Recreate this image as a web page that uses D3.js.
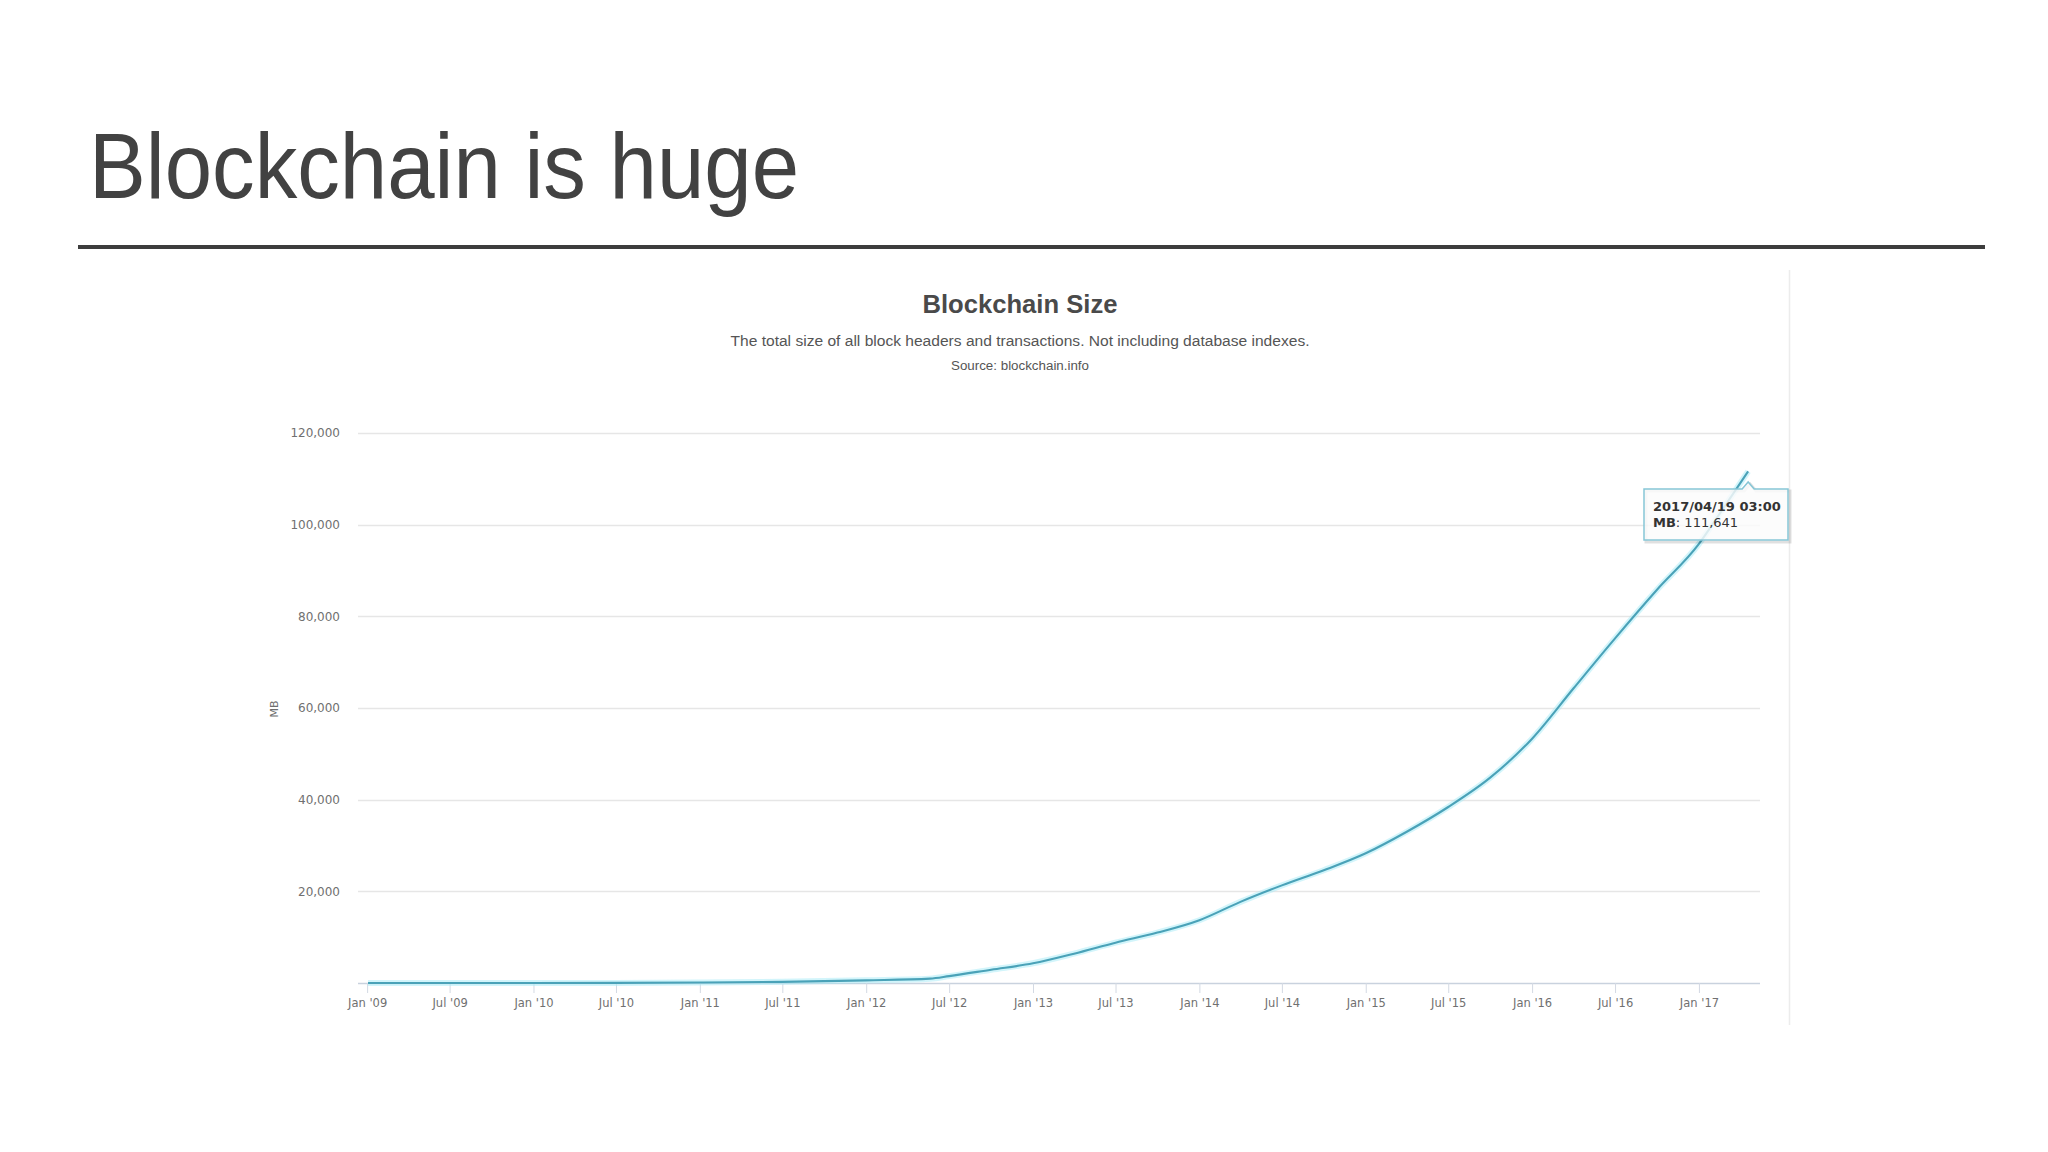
<!DOCTYPE html>
<html>
<head>
<meta charset="utf-8">
<script src="https://cdn.jsdelivr.net/npm/d3@7"></script>
<style>
  html, body { margin: 0; padding: 0; background: #ffffff; }
  svg { display: block; }
</style>
</head>
<body>
<svg id="chart" width="2048" height="1152"></svg>
<script>
// ---- Data ----
const dates = [
  "2009-01-03","2009-07-01","2010-01-01","2010-07-01","2011-01-01","2011-07-01",
  "2012-01-01","2012-05-20","2012-07-01","2012-10-01","2013-01-01","2013-04-01",
  "2013-07-01","2013-10-01","2014-01-01","2014-04-01","2014-07-01","2014-10-01",
  "2015-01-01","2015-04-01","2015-07-01","2015-10-01","2016-01-01","2016-04-01",
  "2016-07-01","2016-10-01","2017-01-01","2017-02-15","2017-04-19"
];
const sizeMB = [
  0, 1, 6, 25, 100, 250,
  580, 950, 1500, 2900, 4300, 6400,
  8800, 11000, 13700, 17700, 21300, 24600,
  28300, 33000, 38400, 44800, 53300, 64300,
  75200, 85800, 95800, 102300, 111641
];
const yTicks = [20000, 40000, 60000, 80000, 100000, 120000];
const xTickDates = [
  "2009-01-01","2009-07-01","2010-01-01","2010-07-01","2011-01-01","2011-07-01",
  "2012-01-01","2012-07-01","2013-01-01","2013-07-01","2014-01-01","2014-07-01",
  "2015-01-01","2015-07-01","2016-01-01","2016-07-01","2017-01-01"
];
const xTickLabels = [
  "Jan '09","Jul '09","Jan '10","Jul '10","Jan '11","Jul '11",
  "Jan '12","Jul '12","Jan '13","Jul '13","Jan '14","Jul '14",
  "Jan '15","Jul '15","Jan '16","Jul '16","Jan '17"
];
const slideTitle = "Blockchain is huge";
const chartTitle = "Blockchain Size";
const chartSubtitle = "The total size of all block headers and transactions. Not including database indexes.";
const chartSource = "Source: blockchain.info";
const yAxisTitle = "MB";
const tooltipDate = "2017/04/19 03:00";
const tooltipLabel = "MB";
const tooltipValue = "111,641";

// ---- Drawing ----
const parse = d3.utcParse("%Y-%m-%d");
const series = dates.map((d, i) => ({ date: parse(d), value: sizeMB[i] }));

const svg = d3.select("#chart");
const sansFont = "'Liberation Sans', Arial, Helvetica, sans-serif";
const axisFont = "'DejaVu Sans', Verdana, sans-serif";

// slide title + rule
svg.append("text")
  .attr("x", 89).attr("y", 198)
  .attr("font-family", sansFont).attr("font-size", 92)
  .attr("fill", "#424242")
  .attr("textLength", 710).attr("lengthAdjust", "spacingAndGlyphs")
  .text(slideTitle);

svg.append("rect")
  .attr("x", 78).attr("y", 245).attr("width", 1907).attr("height", 4)
  .attr("fill", "#3d3d3d");

// chart frame right border
svg.append("line")
  .attr("x1", 1789.5).attr("x2", 1789.5).attr("y1", 270).attr("y2", 1025)
  .attr("stroke", "#ececec").attr("stroke-width", 1.5);

// chart titles
const cx = 1020;
svg.append("text")
  .attr("x", cx).attr("y", 313).attr("text-anchor", "middle")
  .attr("font-family", sansFont).attr("font-size", 25).attr("font-weight", "bold")
  .attr("fill", "#4a4a4a")
  .attr("textLength", 195).attr("lengthAdjust", "spacingAndGlyphs")
  .text(chartTitle);
svg.append("text")
  .attr("x", cx).attr("y", 346).attr("text-anchor", "middle")
  .attr("font-family", sansFont).attr("font-size", 14)
  .attr("fill", "#555555")
  .attr("textLength", 579).attr("lengthAdjust", "spacingAndGlyphs")
  .text(chartSubtitle);
svg.append("text")
  .attr("x", cx).attr("y", 370).attr("text-anchor", "middle")
  .attr("font-family", sansFont).attr("font-size", 12)
  .attr("fill", "#555555")
  .attr("textLength", 138).attr("lengthAdjust", "spacingAndGlyphs")
  .text(chartSource);

// scales
const x = d3.scaleUtc()
  .domain([parse("2008-12-12"), parse("2017-05-15")])
  .range([358, 1760]);
const y = d3.scaleLinear().domain([0, 120000]).range([983, 433]);

// gridlines
const grid = svg.append("g");
grid.selectAll("line").data(yTicks).join("line")
  .attr("x1", 358).attr("x2", 1760)
  .attr("y1", d => Math.round(y(d)) + 0.5).attr("y2", d => Math.round(y(d)) + 0.5)
  .attr("stroke", "#e6e6e6").attr("stroke-width", 1.5);

// y axis labels (via d3 axis, line hidden)
const yAxis = d3.axisLeft(y).tickValues(yTicks).tickSize(0).tickPadding(0)
  .tickFormat(d3.format(","));
const gy = svg.append("g").attr("transform", "translate(340,0)").call(yAxis);
gy.select(".domain").remove();
gy.selectAll("text")
  .attr("font-family", axisFont).attr("font-size", 12).attr("fill", "#707070");

// y axis title
svg.append("text")
  .attr("transform", "translate(278,709) rotate(-90)")
  .attr("text-anchor", "middle")
  .attr("font-family", axisFont).attr("font-size", 11).attr("fill", "#6e6e6e")
  .text(yAxisTitle);

// x axis
const xTicks = xTickDates.map(parse);
const xAxis = d3.axisBottom(x).tickValues(xTicks).tickSize(10).tickPadding(6)
  .tickFormat((d, i) => xTickLabels[i]);
const gx = svg.append("g").attr("transform", "translate(0,983)").call(xAxis);
gx.select(".domain").attr("stroke", "#c9d2de").attr("stroke-width", 1.5)
  .attr("d", "M358,0.5H1760");
gx.selectAll(".tick line").attr("stroke", "#d3d9e3");
gx.selectAll("text")
  .attr("font-family", axisFont).attr("font-size", 11.5).attr("fill", "#707070");

// data line
const line = d3.line()
  .x(d => x(d.date)).y(d => y(d.value))
  .curve(d3.curveMonotoneX);
svg.append("path").datum(series)
  .attr("d", line).attr("fill", "none")
  .attr("stroke", "#a6ecf7").attr("stroke-width", 6).attr("stroke-opacity", 0.5)
  .attr("stroke-linejoin", "round");
svg.append("path").datum(series)
  .attr("d", line).attr("fill", "none")
  .attr("stroke", "#4aa2b8").attr("stroke-width", 2.1)
  .attr("stroke-linejoin", "round");

// tooltip
const last = series[series.length - 1];
const px = x(last.date);
const bx0 = 1644, bx1 = 1788, by0 = 489, by1 = 540, nh = 7;
const tipPath = `M${bx0},${by0} H${px - 6} L${px},${by0 - nh} L${px + 6},${by0} H${bx1} V${by1} H${bx0} Z`;
svg.append("path").attr("d", tipPath)
  .attr("transform", "translate(2,2)")
  .attr("fill", "none").attr("stroke", "#000").attr("stroke-opacity", 0.12).attr("stroke-width", 3);
svg.append("path").attr("d", tipPath)
  .attr("fill", "#fbfbfb").attr("fill-opacity", 0.82)
  .attr("stroke", "#86c6d6").attr("stroke-width", 1.5);
const tip = svg.append("g").attr("font-family", axisFont).attr("font-size", 13).attr("fill", "#333");
tip.append("text").attr("x", 1653).attr("y", 511).attr("font-weight", "bold").text(tooltipDate);
const t2 = tip.append("text").attr("x", 1653).attr("y", 527);
t2.append("tspan").attr("font-weight", "bold").text(tooltipLabel);
t2.append("tspan").text(": " + tooltipValue);
</script>
</body>
</html>
